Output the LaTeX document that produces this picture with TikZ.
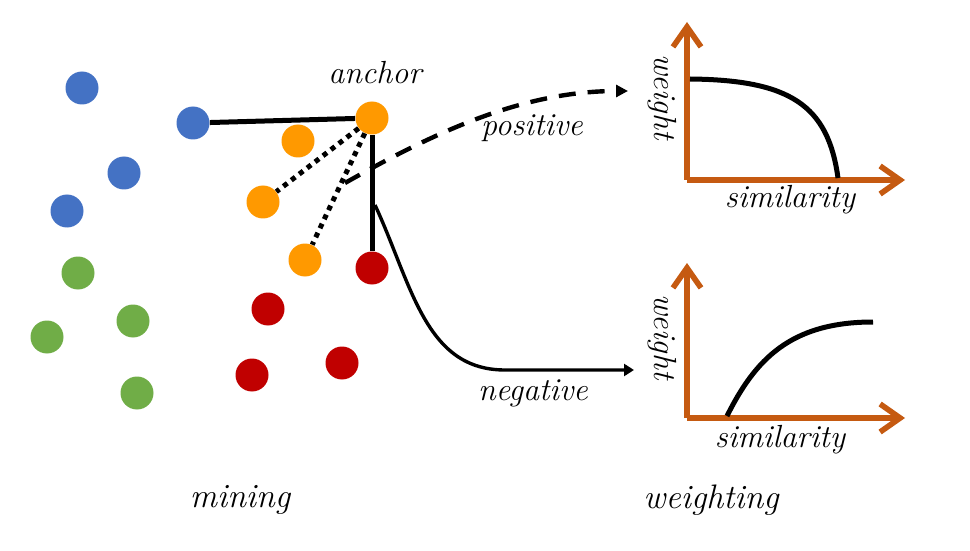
\documentclass[tikz,border=0pt]{standalone}
\usepackage{tikz}
\usetikzlibrary{arrows.meta}
\definecolor{dotblue}{HTML}{4472C4}
\definecolor{dotgreen}{HTML}{70AD47}
\definecolor{dotorange}{HTML}{FF9900}
\definecolor{dotred}{HTML}{C00000}
\definecolor{axisbrown}{HTML}{C55A11}

\begin{document}
\begin{tikzpicture}[x=0.5pt, y=-0.5pt,
	every node/.style={font=\fontsize{16}{18}\selectfont\itshape},
	dot/.style={circle, inner sep=0pt, minimum size=16.5pt},
	axis/.style={draw=axisbrown, line width=2.8pt, -{Straight Barb[length=10pt,width=14pt]}},
	pair/.style={line width=2.5pt},
	title/.style={font=\fontsize{17}{20}\selectfont\itshape}]
	\useasboundingbox (0,0) rectangle (970,551);
	% samples
	\foreach \n/\x/\y in {b1/82/88, b2/124/173, b3/67/211, b4/193/123} {\node[dot, fill=dotblue] (\n) at (\x,\y) {};}
	\foreach \n/\x/\y in {g1/78/273, g2/133/321, g3/47/337, g4/137/393} {\node[dot, fill=dotgreen] (\n) at (\x,\y) {};}
	\foreach \n/\x/\y in {o2/298/141, o3/263/202, o4/305/260} {\node[dot, fill=dotorange] (\n) at (\x,\y) {};}
	\foreach \n/\x/\y in {r1/372/268, r2/268/309, r3/342/363, r4/252/375} {\node[dot, fill=dotred] (\n) at (\x,\y) {};}
	\coordinate (pstart) at (345,183); \coordinate (pend) at (628,91);
	\coordinate (nstart) at (375,205); \coordinate (nbend) at (505,370); \coordinate (nend) at (634,370);
	\draw[line width=2.2pt, dash pattern=on 8.5pt off 6pt, -{Triangle[length=6pt,width=6pt]}] (pstart) .. controls (430,135) and (520,91) .. (pend);
	\node[dot, fill=dotorange] (anc) at (372,118) {};
	\draw[pair] (b4) -- (anc);
	\draw[pair] (anc) -- (r1);
	\draw[pair, dash pattern=on 2.5pt off 2.5pt] (anc) -- (o3);
	\draw[pair, dash pattern=on 2.5pt off 2.5pt] (anc) -- (o4);
	\draw[line width=1.7pt, -{Triangle[length=5pt,width=6pt]}] (nstart) .. controls (412,285) and (425,370) .. (nbend) -- (nend);
	\node (lanchor) at (375,73) {anchor};
	\node (lpos) at (532,128) {positive};
	\node (lneg) at (533,393) {negative};
	% weighting curves
	\coordinate (o1) at (687,180); \coordinate (o2) at (687,418);
	\draw[axis] (o1) -- (687,22);
	\draw[axis] (o1) -- (905,180);
	\draw[axis] (o2) -- (687,263);
	\draw[axis] (o2) -- (905,418);
	\draw[line width=2.5pt] (690,79) .. controls (790,80) and (828,105) .. (838,178);
	\draw[line width=2.5pt] (727,416) .. controls (755,360) and (790,322) .. (873,322);
	\node[rotate=-90] (wt1) at (662,97) {weight};
	\node[rotate=-90] (wt2) at (662,337) {weight};
	\node (sim1) at (790,200) {similarity};
	\node (sim2) at (780,440) {similarity};
	\node[title] (lmine) at (240,500) {mining};
	\node[title] (lweigh) at (711,500) {weighting};
\end{tikzpicture}
\end{document}
